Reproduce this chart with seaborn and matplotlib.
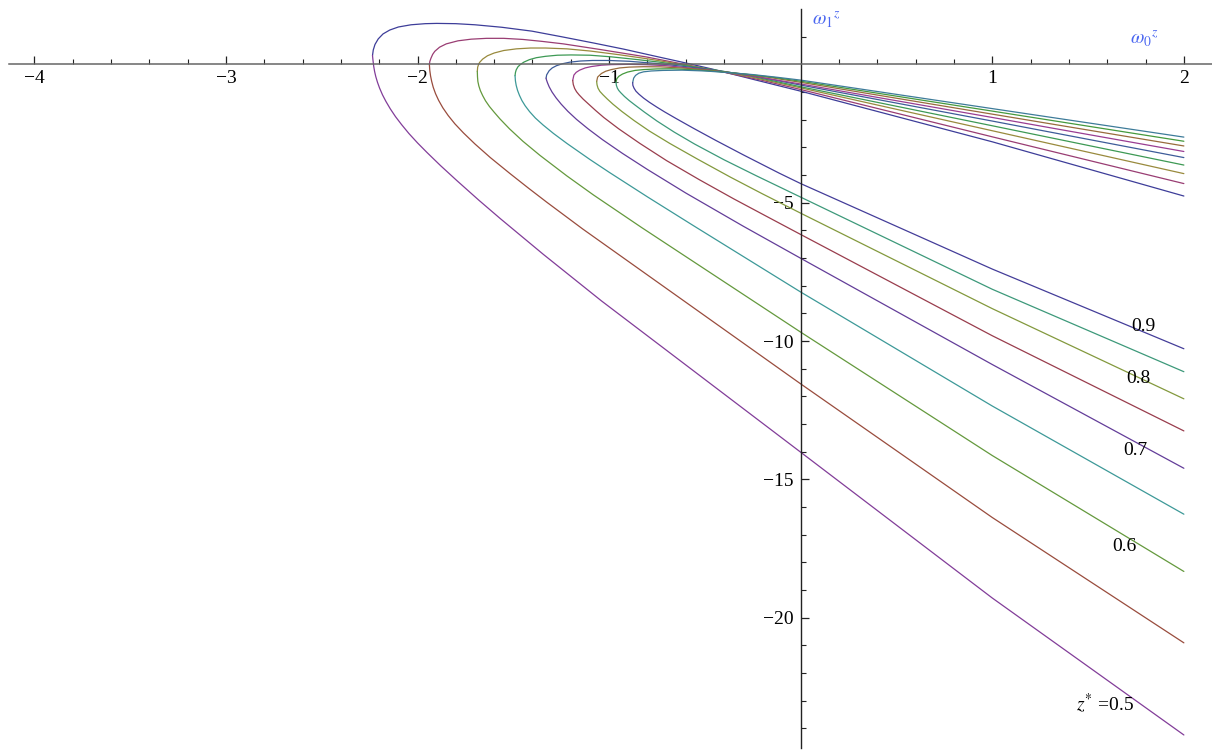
import numpy as np
import pandas as pd
import matplotlib
matplotlib.use("Agg")
import matplotlib.pyplot as plt
from matplotlib.ticker import FixedLocator, NullFormatter
import seaborn as sns

# z* values of the nine curves
zstar = [0.5, 0.55, 0.6, 0.65, 0.7, 0.75, 0.8, 0.85, 0.9]

# upper branches (w0, w1), vertex -> w0 = 2
up_50 = [(-2.235, 0.32), (-2.231, 0.52), (-2.222, 0.72), (-2.205, 0.92), (-2.18, 1.10), (-2.145, 1.24),
         (-2.10, 1.35), (-2.034, 1.43), (-1.96, 1.47), (-1.90, 1.48), (-1.80, 1.47), (-1.70, 1.43),
         (-1.56, 1.34), (-1.403, 1.20), (-1.25, 1.00), (-1.08, 0.77), (-0.924, 0.55), (-0.75, 0.28),
         (-0.60, 0.05), (-0.462, -0.17), (-0.25, -0.54), (0, -0.97), (1, -2.80), (2, -4.76)]
up_55 = [(-1.938, -0.02), (-1.936, 0.10), (-1.930, 0.22), (-1.921, 0.36), (-1.910, 0.47), (-1.885, 0.62),
         (-1.85, 0.74), (-1.789, 0.85), (-1.72, 0.91), (-1.64, 0.94), (-1.55, 0.94), (-1.45, 0.90),
         (-1.35, 0.83), (-1.239, 0.74), (-1.05, 0.54), (-0.808, 0.27), (-0.60, -0.01), (-0.389, -0.30),
         (-0.20, -0.58), (0, -0.91), (1, -2.62), (2, -4.31)]
up_60 = [(-1.688, -0.25), (-1.686, -0.10), (-1.681, 0.00), (-1.676, 0.07), (-1.66, 0.19), (-1.635, 0.31),
         (-1.60, 0.41), (-1.55, 0.50), (-1.484, 0.56), (-1.41, 0.59), (-1.332, 0.59), (-1.22, 0.56),
         (-1.097, 0.48), (-0.95, 0.35), (-0.80, 0.20), (-0.65, 0.03), (-0.45, -0.21), (-0.25, -0.47),
         (0, -0.85), (1, -2.40), (2, -3.95)]
up_65 = [(-1.491, -0.41), (-1.489, -0.30), (-1.485, -0.20), (-1.476, -0.09), (-1.464, -0.01), (-1.445, 0.08),
         (-1.416, 0.17), (-1.38, 0.24), (-1.332, 0.29), (-1.27, 0.33), (-1.199, 0.34), (-1.10, 0.33),
         (-0.987, 0.27), (-0.85, 0.17), (-0.75, 0.09), (-0.629, -0.02), (-0.45, -0.20), (-0.277, -0.40),
         (0, -0.81), (1, -2.22), (2, -3.64)]
up_70 = [(-1.329, -0.50), (-1.326, -0.38), (-1.313, -0.23), (-1.297, -0.13), (-1.275, -0.05), (-1.245, 0.02),
         (-1.204, 0.08), (-1.15, 0.12), (-1.086, 0.14), (-1.0, 0.14), (-0.894, 0.11), (-0.75, 0.03),
         (-0.565, -0.11), (-0.40, -0.26), (-0.238, -0.43), (0, -0.75), (1, -2.05), (2, -3.37)]
up_75 = [(-1.190, -0.58), (-1.184, -0.39), (-1.172, -0.29), (-1.154, -0.21), (-1.125, -0.13), (-1.093, -0.08),
         (-1.04, -0.03), (-0.988, -0.01), (-0.90, 0.0), (-0.813, -0.01), (-0.70, -0.05), (-0.51, -0.18),
         (-0.30, -0.37), (0, -0.71), (1, -1.92), (2, -3.15)]
up_80 = [(-1.065, -0.62), (-1.060, -0.46), (-1.040, -0.33), (-1.018, -0.25), (-0.989, -0.19), (-0.945, -0.13),
         (-0.895, -0.10), (-0.82, -0.085), (-0.735, -0.09), (-0.60, -0.14), (-0.453, -0.23), (-0.30, -0.35),
         (-0.167, -0.47), (0, -0.65), (1, -1.80), (2, -2.95)]
up_85 = [(-0.964, -0.65), (-0.960, -0.52), (-0.949, -0.43), (-0.93, -0.35), (-0.904, -0.28), (-0.865, -0.22),
         (-0.821, -0.19), (-0.75, -0.165), (-0.674, -0.16), (-0.55, -0.20), (-0.412, -0.27), (-0.28, -0.36),
         (-0.142, -0.47), (0, -0.61), (1, -1.69), (2, -2.78)]
up_90 = [(-0.877, -0.66), (-0.872, -0.50), (-0.862, -0.40), (-0.845, -0.32), (-0.82, -0.27), (-0.78, -0.24),
         (-0.72, -0.22), (-0.62, -0.21), (-0.50, -0.24), (-0.375, -0.30), (-0.25, -0.37), (-0.12, -0.47),
         (0, -0.57), (1, -1.60), (2, -2.63)]

# lower branches, vertex -> w0 = 2
lo_50 = [(-2.235, 0.32), (-2.233, 0.18), (-2.229, -0.06), (-2.224, -0.26), (-2.218, -0.44), (-2.209, -0.65),
         (-2.198, -0.86), (-2.183, -1.10), (-2.165, -1.34), (-2.142, -1.61), (-2.115, -1.89), (-2.083, -2.18),
         (-2.045, -2.50), (-2.0, -2.84), (-1.95, -3.19), (-1.88, -3.66), (-1.795, -4.20), (-1.68, -4.91),
         (-1.569, -5.57), (-1.343, -6.87), (-1.04, -8.55), (0, -14.02), (1, -19.29), (2, -24.24)]
lo_55 = [(-1.938, -0.02), (-1.936, -0.22), (-1.932, -0.42), (-1.926, -0.62), (-1.918, -0.83), (-1.906, -1.06),
         (-1.890, -1.30), (-1.868, -1.57), (-1.840, -1.85), (-1.805, -2.15), (-1.76, -2.48), (-1.70, -2.88),
         (-1.62, -3.37), (-1.517, -3.95), (-1.42, -4.48), (-1.326, -4.98), (-1.138, -5.95), (0, -11.55),
         (1, -16.38), (2, -20.91)]
lo_60 = [(-1.688, -0.25), (-1.687, -0.45), (-1.685, -0.62), (-1.680, -0.78), (-1.672, -0.95), (-1.660, -1.13),
         (-1.645, -1.32), (-1.625, -1.52), (-1.60, -1.73), (-1.57, -1.97), (-1.52, -2.33), (-1.45, -2.78),
         (-1.361, -3.29), (-1.221, -4.03), (-1.082, -4.72), (-0.83, -5.90), (0, -9.68), (1, -14.14),
         (2, -18.33)]
lo_65 = [(-1.491, -0.41), (-1.489, -0.60), (-1.485, -0.76), (-1.478, -0.94), (-1.468, -1.12), (-1.455, -1.31),
         (-1.438, -1.50), (-1.415, -1.71), (-1.385, -1.94), (-1.345, -2.19), (-1.29, -2.50), (-1.22, -2.86),
         (-1.10, -3.44), (-1.0, -3.90), (-0.80, -4.79), (-0.56, -5.83), (0, -8.23), (1, -12.35), (2, -16.26)]
lo_70 = [(-1.329, -0.50), (-1.327, -0.56), (-1.322, -0.66), (-1.313, -0.81), (-1.298, -1.0), (-1.277, -1.21),
         (-1.25, -1.44), (-1.215, -1.70), (-1.17, -1.99), (-1.11, -2.33), (-1.035, -2.72), (-0.93, -3.22),
         (-0.80, -3.80), (-0.60, -4.65), (-0.30, -5.85), (0, -7.01), (1, -10.85), (2, -14.60)]
lo_75 = [(-1.190, -0.58), (-1.187, -0.73), (-1.180, -0.87), (-1.170, -0.99), (-1.157, -1.10), (-1.135, -1.26),
         (-1.105, -1.45), (-1.07, -1.67), (-1.028, -1.92), (-0.95, -2.33), (-0.839, -2.86), (-0.70, -3.48),
         (-0.529, -4.17), (-0.35, -4.86), (-0.174, -5.51), (0, -6.15), (1, -9.81), (2, -13.25)]
lo_80 = [(-1.065, -0.62), (-1.063, -0.74), (-1.058, -0.86), (-1.048, -0.98), (-1.032, -1.10), (-1.01, -1.25),
         (-0.98, -1.44), (-0.934, -1.70), (-0.87, -2.03), (-0.79, -2.41), (-0.683, -2.86), (-0.54, -3.42),
         (-0.366, -4.08), (-0.2, -4.68), (0, -5.38), (1, -8.83), (2, -12.09)]
lo_85 = [(-0.964, -0.65), (-0.962, -0.76), (-0.957, -0.86), (-0.950, -0.94), (-0.940, -1.02), (-0.92, -1.16),
         (-0.895, -1.31), (-0.865, -1.47), (-0.815, -1.73), (-0.75, -2.05), (-0.66, -2.45), (-0.554, -2.88),
         (-0.40, -3.45), (-0.231, -4.03), (0, -4.80), (1, -8.13), (2, -11.11)]
lo_90 = [(-0.877, -0.66), (-0.876, -0.76), (-0.870, -0.86), (-0.860, -0.97), (-0.844, -1.08), (-0.82, -1.22),
         (-0.79, -1.37), (-0.75, -1.55), (-0.71, -1.72), (-0.65, -1.96), (-0.56, -2.31), (-0.443, -2.75),
         (-0.30, -3.27), (-0.113, -3.93), (0, -4.31), (1, -7.40), (2, -10.28)]

upper = [up_50, up_55, up_60, up_65, up_70, up_75, up_80, up_85, up_90]
lower = [lo_50, lo_55, lo_60, lo_65, lo_70, lo_75, lo_80, lo_85, lo_90]

# curve labels
label_text = ["0.9", "0.8", "0.7", "0.6", r"$z^{*}$ =0.5"]
label_pos = [(1.79, -9.46), (1.76, -11.34), (1.745, -13.97), (1.69, -17.41), (1.59, -23.08)]

# Mathematica-like default colours (upper branches, then lower branches)
upper_colors = ["#3d3d99", "#993d73", "#998a3d", "#3d9954", "#3d5c99", "#993d92", "#996b3d", "#45993d", "#3d7b99"]
lower_colors = ["#823d99", "#994c3d", "#64993d", "#3d9998", "#633d99", "#993d4d", "#83993d", "#3d997a", "#443d99"]

rows = []
for i, z in enumerate(zstar):
    for br, pts in (("u", upper[i]), ("l", lower[i])):
        for x, y in pts:
            rows.append({"w0": x, "w1": y, "curve": f"{br}{z}"})
df = pd.DataFrame(rows)

palette = {}
for i, z in enumerate(zstar):
    palette[f"u{z}"] = upper_colors[i]
    palette[f"l{z}"] = lower_colors[i]

sns.set_style("white")
plt.rcParams["font.family"] = ["Liberation Serif", "DejaVu Serif"]
plt.rcParams["mathtext.fontset"] = "stix"

fig = plt.figure(figsize=(12.12, 7.51), dpi=100)
ax = fig.add_axes([0.0078, 0.0044, 0.9927, 0.9836])

sns.lineplot(data=df, x="w0", y="w1", hue="curve", palette=palette, units="curve",
             estimator=None, sort=False, legend=False, linewidth=0.9, ax=ax)

ax.set_xlim(-4.13, 2.15)
ax.set_ylim(-24.7, 2.0)
ax.set_xlabel("")
ax.set_ylabel("")

# axes through the origin, Mathematica style
for s in ["top", "right"]:
    ax.spines[s].set_visible(False)
ax.spines["left"].set_position(("data", 0))
ax.spines["bottom"].set_position(("data", 0))
ax.spines["bottom"].set_color("#666666")
ax.spines["left"].set_color("#222222")
ax.spines["bottom"].set_linewidth(1.1)
ax.spines["left"].set_linewidth(1.0)

ax.xaxis.set_major_locator(FixedLocator([-4, -3, -2, -1, 1, 2]))
ax.xaxis.set_minor_locator(FixedLocator([v / 5 for v in range(-20, 11) if v % 5 != 0]))
ax.yaxis.set_major_locator(FixedLocator([-20, -15, -10, -5]))
ax.yaxis.set_minor_locator(FixedLocator([v for v in range(-24, 2) if v % 5 != 0]))
ax.xaxis.set_minor_formatter(NullFormatter())
ax.yaxis.set_minor_formatter(NullFormatter())
ax.tick_params(axis="both", which="both", bottom=True, left=True, direction="in", color="#222222")
ax.tick_params(axis="both", which="major", length=6, width=0.9, labelsize=14, labelcolor="black")
ax.tick_params(axis="both", which="minor", length=3.5, width=0.8)
ax.tick_params(axis="x", which="major", pad=4)
ax.tick_params(axis="y", which="major", pad=5)

for t, (x, y) in zip(label_text, label_pos):
    ax.text(x, y, t, fontsize=14, ha="center", va="center", color="black")

ax.text(0.06, 1.62, r"$\omega_1{}^z$", color="#4a66f0", fontsize=14, ha="left", va="center")
ax.text(1.72, 0.93, r"$\omega_0{}^z$", color="#4a66f0", fontsize=14, ha="left", va="center")

fig.savefig("out.png", dpi=100)
